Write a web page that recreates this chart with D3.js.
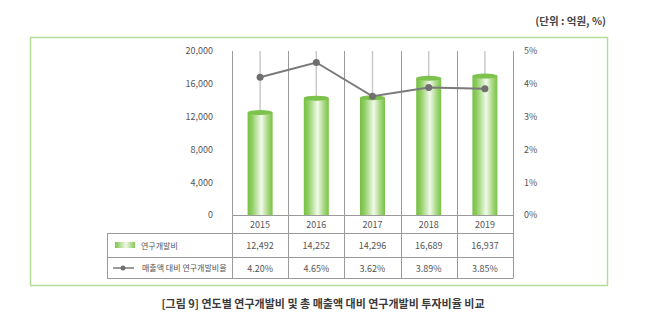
<!DOCTYPE html>
<html><head><meta charset="utf-8">
<script src="https://cdn.jsdelivr.net/npm/d3@7"></script>
<style>
body{margin:0;background:#fff;}
text{font-family:"Noto Sans CJK KR","Noto Sans",sans-serif;}
</style></head>
<body><svg id="c" width="649" height="326"></svg>
<script>
const years = ["2015","2016","2017","2018","2019"];
const rdCost = [12492,14252,14296,16689,16937];
const rdRatio = [4.20,4.65,3.62,3.89,3.85];
const leftTicks = [0,4000,8000,12000,16000,20000];
const rightTicks = [0,1,2,3,4,5];
const seriesNames = ["연구개발비","매출액 대비 연구개발비율"];
const unitLabel = "(단위 : 억원, %)";
const caption = "[그림 9] 연도별 연구개발비 및 총 매출액 대비 연구개발비 투자비율 비교";

const svg = d3.select("#c");
const defs = svg.append("defs");
const g1 = defs.append("linearGradient").attr("id","cyl").attr("x1","0").attr("x2","1").attr("y1","0").attr("y2","0");
[[0,"#76c043"],[0.18,"#8fce62"],[0.55,"#f2f9ec"],[0.8,"#a8d982"],[1,"#78c246"]].forEach(s=>g1.append("stop").attr("offset",s[0]).attr("stop-color",s[1]));
const g2 = defs.append("linearGradient").attr("id","sw").attr("x1","0").attr("x2","1");
[[0,"#7dc44e"],[0.55,"#eef8e6"],[1,"#86c85a"]].forEach(s=>g2.append("stop").attr("offset",s[0]).attr("stop-color",s[1]));

// frame
svg.append("rect").attr("x",30.5).attr("y",37.5).attr("width",577).attr("height",248)
  .attr("fill","none").attr("stroke","#b5dc98").attr("stroke-width",1.5);

svg.append("text").attr("x",606).attr("y",25).attr("text-anchor","end")
  .attr("font-size",10.5).attr("font-weight","bold").attr("fill","#444").text(unitLabel);

const L=232, R=513, T=51, B=215, tableBottom=278;
const x = d3.scaleBand().domain(years).range([L,R]);
const yL = d3.scaleLinear().domain([0,20000]).range([B,T]);
const yR = d3.scaleLinear().domain([0,5]).range([B,T]);

const axL = d3.axisLeft(yL).tickValues(leftTicks).tickSize(0).tickPadding(0).tickFormat(d3.format(","));
const gL = svg.append("g").attr("transform",`translate(${L-19},0)`).call(axL);
gL.select(".domain").remove();
gL.selectAll("text").attr("font-size",9).attr("fill","#555").style("font-family","'Noto Sans CJK KR'");
const axR = d3.axisRight(yR).tickValues(rightTicks).tickSize(0).tickPadding(0).tickFormat(d=>d+"%");
const gR = svg.append("g").attr("transform",`translate(${R+11},0)`).call(axR);
gR.select(".domain").remove();
gR.selectAll("text").attr("font-size",9).attr("fill","#555").style("font-family","'Noto Sans CJK KR'");

svg.append("g").selectAll("line").data(years).join("line")
  .attr("x1",d=>x(d)+x.bandwidth()/2).attr("x2",d=>x(d)+x.bandwidth()/2)
  .attr("y1",T).attr("y2",(d,i)=>yL(rdCost[i])+2)
  .attr("stroke","#c9c9c9").attr("stroke-width",1.5);

const divs = years.map(d=>x(d)).concat([R]);
svg.append("g").selectAll("line").data(divs).join("line")
  .attr("x1",d=>Math.round(d)+0.5).attr("x2",d=>Math.round(d)+0.5)
  .attr("y1",T).attr("y2",tableBottom).attr("stroke","#9a9a9a").attr("stroke-width",1);

const bw = 25;
const bars = svg.append("g").selectAll("g").data(years).join("g");
bars.append("rect").attr("x",d=>x(d)+x.bandwidth()/2-bw/2).attr("width",bw)
  .attr("y",(d,i)=>yL(rdCost[i])).attr("height",(d,i)=>B-yL(rdCost[i]))
  .attr("fill","url(#cyl)");
bars.append("ellipse").attr("cx",d=>x(d)+x.bandwidth()/2).attr("cy",(d,i)=>yL(rdCost[i]))
  .attr("rx",bw/2).attr("ry",2.5).attr("fill","#7cc24c");

svg.append("line").attr("x1",L).attr("x2",R).attr("y1",B+0.5).attr("y2",B+0.5).attr("stroke","#9a9a9a");
[233,257,tableBottom].forEach(yy=>svg.append("line").attr("x1",107).attr("x2",R+0.5).attr("y1",yy+0.5).attr("y2",yy+0.5).attr("stroke","#9a9a9a"));
svg.append("line").attr("x1",107.5).attr("x2",107.5).attr("y1",233).attr("y2",tableBottom).attr("stroke","#9a9a9a");

const line = d3.line().x((d,i)=>x(years[i])+x.bandwidth()/2).y(d=>yR(d));
svg.append("path").datum(rdRatio).attr("d",line).attr("fill","none").attr("stroke","#7a7a7a").attr("stroke-width",2);
svg.append("g").selectAll("circle").data(rdRatio).join("circle")
  .attr("cx",(d,i)=>x(years[i])+x.bandwidth()/2).attr("cy",d=>yR(d)).attr("r",3.5).attr("fill","#6f6f6f");

const cx = d=>x(d)+x.bandwidth()/2;
svg.append("g").selectAll("text").data(years).join("text").attr("x",cx).attr("y",228)
  .attr("text-anchor","middle").attr("font-size",9).attr("fill","#555").text(d=>d);
svg.append("g").selectAll("text").data(rdCost).join("text").attr("x",(d,i)=>cx(years[i])).attr("y",249)
  .attr("text-anchor","middle").attr("font-size",9).attr("fill","#555").text(d=>d3.format(",")(d));
svg.append("g").selectAll("text").data(rdRatio).join("text").attr("x",(d,i)=>cx(years[i])).attr("y",272)
  .attr("text-anchor","middle").attr("font-size",9).attr("fill","#555").text(d=>d.toFixed(2)+"%");

svg.append("rect").attr("x",115).attr("y",242).attr("width",20).attr("height",6).attr("fill","url(#sw)");
svg.append("text").attr("x",141).attr("y",249).attr("font-size",8).attr("fill","#555").text(seriesNames[0]);
svg.append("line").attr("x1",113).attr("x2",134).attr("y1",268).attr("y2",268).attr("stroke","#7a7a7a").attr("stroke-width",1.5);
svg.append("circle").attr("cx",123).attr("cy",268).attr("r",2.5).attr("fill","#6f6f6f");
svg.append("text").attr("x",142).attr("y",271).attr("font-size",8).attr("fill","#555").text(seriesNames[1]);

svg.append("text").attr("x",323).attr("y",308).attr("text-anchor","middle")
  .attr("font-size",11).attr("font-weight","bold").attr("fill","#3a3a3a").text(caption);
</script></body></html>
